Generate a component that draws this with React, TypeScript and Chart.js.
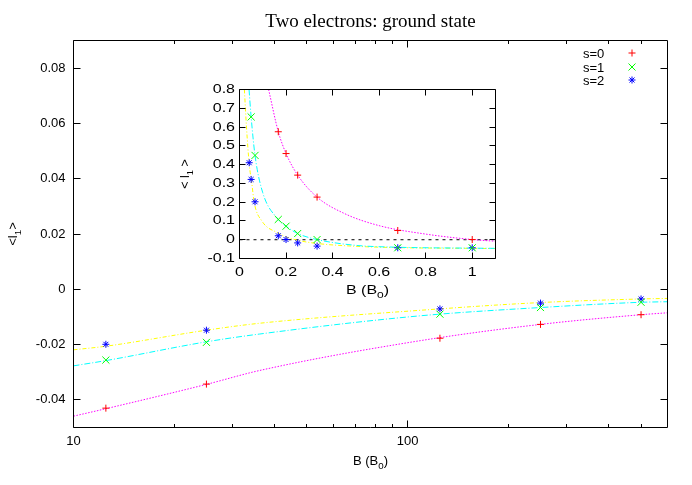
import React, { useEffect, useRef } from 'react';
import { Chart, registerables } from 'chart.js';

Chart.register(...registerables);

const TITLE = 'Two electrons: ground state';
const SERIES_LABELS = ['s=0', 's=1', 's=2'];
const POINT_COLORS = ['#ff0000', '#00ff00', '#0000ff'];
const FIT_COLORS = ['#ff00ff', '#00ffff', '#ffff00'];

// ---- main panel (log B axis) ----
const MAIN_B = [12.5, 25, 125, 250, 500];
const MAIN_S0 = [-0.043, -0.0343, -0.0177, -0.0127, -0.0092];
const MAIN_S1 = [-0.0256, -0.0192, -0.009, -0.0066, -0.0047];
const MAIN_S2 = [-0.0199, -0.0148, -0.0071, -0.005, -0.0035];

const MAIN_FIT_B = [10, 12.5, 25, 36, 109, 250, 500, 600];
const MAIN_FIT0 = [-0.0459, -0.0432, -0.0344, -0.0294, -0.0186, -0.0127, -0.0092, -0.0085];
const MAIN_FIT1 = [-0.0277, -0.0258, -0.019, -0.0162, -0.0096, -0.0066, -0.0047, -0.0045];
const MAIN_FIT2 = [-0.0219, -0.0206, -0.0148, -0.0123, -0.0076, -0.0048, -0.0035, -0.0033];

const MAIN_X_TICKS = [10, 100];
const MAIN_X_MINOR = [20, 30, 40, 50, 60, 70, 80, 90, 200, 300, 400, 500];
const MAIN_Y_TICKS = [-0.04, -0.02, 0, 0.02, 0.04, 0.06, 0.08];

// ---- inset (linear B axis) ----
const IN_S0_B = [0.1667, 0.2, 0.25, 0.3333, 0.68, 1.0];
const IN_S0 = [0.575, 0.459, 0.344, 0.227, 0.049, 0.001];
const IN_S1_B = [0.05, 0.0667, 0.1667, 0.2, 0.25, 0.3333, 0.68, 1.0];
const IN_S1 = [0.654, 0.449, 0.108, 0.072, 0.033, 0.001, -0.043, -0.043];
const IN_S2_B = [0.0417, 0.05, 0.0667, 0.1667, 0.2, 0.25, 0.3333, 0.68, 1.0];
const IN_S2 = [0.41, 0.321, 0.202, 0.021, 0.001, -0.017, -0.034, -0.043, -0.043];

const IN_FIT0_B = [0.125, 0.1667, 0.2, 0.25, 0.3333, 0.45, 0.6, 0.8, 1.0, 1.1];
const IN_FIT0 = [0.8, 0.575, 0.459, 0.344, 0.227, 0.14, 0.075, 0.03, 0.001, -0.008];
const IN_FIT1_B = [0.041, 0.05, 0.0667, 0.1, 0.1667, 0.2, 0.25, 0.3333, 0.5, 0.68, 1.0, 1.1];
const IN_FIT1 = [0.8, 0.654, 0.449, 0.25, 0.108, 0.072, 0.033, 0.001, -0.03, -0.04, -0.045, -0.046];
const IN_FIT2_B = [0.021, 0.03, 0.042, 0.053, 0.063, 0.096, 0.1667, 0.2, 0.25, 0.3333, 0.5, 0.68, 1.0, 1.1];
const IN_FIT2 = [0.8, 0.6, 0.4, 0.3, 0.2, 0.1, 0.035, 0.015, -0.003, -0.02, -0.035, -0.042, -0.046, -0.047];
const IN_ZERO_B = [0, 1.1];
const IN_ZERO = [0, 0];

const IN_X_TICKS = [0, 0.2, 0.4, 0.6, 0.8, 1];
const IN_Y_TICKS = [-0.1, 0, 0.1, 0.2, 0.3, 0.4, 0.5, 0.6, 0.7, 0.8];

const SANS = '"Liberation Sans", Arial, Helvetica, sans-serif';
const SERIF = '"Liberation Serif", "Times New Roman", serif';

const pts = (xs: number[], ys: number[]) => xs.map((x, i) => ({ x, y: ys[i] }));
const crisp = (v: number) => Math.floor(v) + 0.5;

type Part = { t: string; sub?: boolean };

function drawRich(ctx: CanvasRenderingContext2D, parts: Part[], x: number, y: number, size: number, family: string, rot = 0, sx = 1) {
  ctx.save();
  ctx.translate(x, y);
  if (rot) ctx.rotate(rot);
  ctx.scale(sx, 1);
  ctx.fillStyle = '#000';
  ctx.textAlign = 'left';
  ctx.textBaseline = 'alphabetic';
  const fontOf = (p: Part) => `${p.sub ? size * 0.75 : size}px ${family}`;
  let w = 0;
  for (const p of parts) { ctx.font = fontOf(p); w += ctx.measureText(p.t).width; }
  let cx = -w / 2;
  for (const p of parts) {
    ctx.font = fontOf(p);
    ctx.fillText(p.t, cx, p.sub ? size * 0.32 : 0);
    cx += ctx.measureText(p.t).width;
  }
  ctx.restore();
}

function marker(ctx: CanvasRenderingContext2D, style: string, x: number, y: number, color: string) {
  ctx.save();
  ctx.globalAlpha = 1;
  ctx.globalCompositeOperation = 'source-over';
  ctx.setLineDash([]);
  ctx.strokeStyle = color;
  ctx.lineWidth = 1;
  ctx.beginPath();
  if (style === 'cross' || style === 'star') {
    const r = 3.5;
    ctx.moveTo(x - r, y); ctx.lineTo(x + r, y);
    ctx.moveTo(x, y - r); ctx.lineTo(x, y + r);
  }
  if (style === 'crossRot' || style === 'star') {
    const d = style === 'star' ? 2.5 : 3.5;
    ctx.moveTo(x - d, y - d); ctx.lineTo(x + d, y + d);
    ctx.moveTo(x - d, y + d); ctx.lineTo(x + d, y - d);
  }
  ctx.stroke();
  ctx.restore();
}

function framePlugin(xMajor: number[], xMinor: number[], yMajor: number[], majLen: number, minLen: number) {
  return {
    id: 'frame',
    afterDatasetsDraw(chart: any) {
      const { ctx, chartArea: a, scales } = chart;
      const L = crisp(a.left), R = crisp(a.right), T = crisp(a.top), B = crisp(a.bottom);
      ctx.save();
      ctx.setLineDash([]);
      ctx.strokeStyle = '#000';
      ctx.lineWidth = 1;
      ctx.beginPath();
      ctx.rect(L, T, R - L, B - T);
      const xt = (v: number, len: number) => {
        const px = crisp(scales.x.getPixelForValue(v));
        ctx.moveTo(px, B); ctx.lineTo(px, B - len);
        ctx.moveTo(px, T); ctx.lineTo(px, T + len);
      };
      xMajor.forEach((v) => xt(v, majLen));
      xMinor.forEach((v) => xt(v, minLen));
      yMajor.forEach((v) => {
        const py = crisp(scales.y.getPixelForValue(v));
        ctx.moveTo(L, py); ctx.lineTo(L + majLen, py);
        ctx.moveTo(R, py); ctx.lineTo(R - majLen, py);
      });
      ctx.stroke();
      ctx.restore();
    },
  };
}

const POINT_STYLES = ['cross', 'crossRot', 'star'];
const POINT_RADII = [3.5, 5, 3.5];
const FIT_DASH = [[1.5, 1.5], [6, 2, 1, 2], [4, 2, 1, 2]];

function pointSet(i: number, xs: number[], ys: number[]) {
  return {
    label: SERIES_LABELS[i],
    data: pts(xs, ys),
    showLine: false,
    pointStyle: POINT_STYLES[i],
    pointRadius: POINT_RADII[i],
    pointBorderWidth: 1,
    borderColor: POINT_COLORS[i],
    backgroundColor: POINT_COLORS[i],
  };
}

function fitSet(i: number, xs: number[], ys: number[]) {
  return {
    label: 'fit' + i,
    data: pts(xs, ys),
    showLine: true,
    pointRadius: 0,
    borderWidth: 1,
    borderColor: FIT_COLORS[i],
    borderDash: FIT_DASH[i],
    cubicInterpolationMode: 'monotone',
    fill: false,
  };
}

export default function App() {
  const mainRef = useRef<HTMLCanvasElement>(null);
  const insetRef = useRef<HTMLCanvasElement>(null);

  useEffect(() => {
    const mainTexts = {
      id: 'mainTexts',
      afterDraw(chart: any) {
        const { ctx, chartArea: a } = chart;
        const cx = (a.left + a.right) / 2;
        ctx.save();
        ctx.fillStyle = '#000';
        ctx.font = `19px ${SERIF}`;
        ctx.textAlign = 'center';
        ctx.textBaseline = 'alphabetic';
        ctx.fillText(TITLE, cx, 26.5);
        ctx.restore();
        drawRich(ctx, [{ t: 'B (B' }, { t: '0', sub: true }, { t: ')' }], cx, 465, 13, SANS);
        drawRich(ctx, [{ t: '<l' }, { t: '1', sub: true }, { t: '>' }], 16.5, (a.top + a.bottom) / 2, 13, SANS, -Math.PI / 2);
        // legend
        const ys = [53, 67, 80];
        SERIES_LABELS.forEach((lab, i) => {
          ctx.save();
          ctx.fillStyle = '#000';
          ctx.font = `13px ${SANS}`;
          ctx.textAlign = 'left';
          ctx.textBaseline = 'alphabetic';
          ctx.fillText(lab, 583, ys[i] + 5);
          ctx.restore();
          marker(ctx, POINT_STYLES[i], 632, ys[i], POINT_COLORS[i]);
        });
      },
    };

    const main = new Chart(mainRef.current as HTMLCanvasElement, {
      type: 'scatter',
      data: {
        datasets: [
          pointSet(0, MAIN_B, MAIN_S0),
          pointSet(1, MAIN_B, MAIN_S1),
          pointSet(2, MAIN_B, MAIN_S2),
          fitSet(0, MAIN_FIT_B, MAIN_FIT0),
          fitSet(1, MAIN_FIT_B, MAIN_FIT1),
          fitSet(2, MAIN_FIT_B, MAIN_FIT2),
        ] as any,
      },
      options: {
        responsive: false,
        maintainAspectRatio: false,
        animation: false,
        events: [],
        layout: { padding: { left: 0, right: 24.5, top: 40.5, bottom: 0 } },
        plugins: { legend: { display: false }, tooltip: { enabled: false }, title: { display: false } },
        scales: {
          x: {
            type: 'logarithmic',
            min: 10,
            max: 600,
            grid: { display: false, drawTicks: false },
            border: { display: false },
            ticks: {
              color: '#000',
              font: { family: SANS, size: 13 },
              padding: 6,
              maxRotation: 0,
              autoSkip: false,
              callback: (v: any) => String(v),
            },
            afterBuildTicks: (s: any) => { s.ticks = MAIN_X_TICKS.map((v) => ({ value: v })); },
            afterFit: (s: any) => { s.height = 57.5; },
          },
          y: {
            type: 'linear',
            min: -0.05,
            max: 0.09,
            grid: { display: false, drawTicks: false },
            border: { display: false },
            ticks: {
              color: '#000',
              font: { family: SANS, size: 13 },
              padding: 8,
              callback: (v: any) => (Math.abs(v) < 1e-9 ? '0' : Number(v).toFixed(2)),
            },
            afterBuildTicks: (s: any) => { s.ticks = MAIN_Y_TICKS.map((v) => ({ value: v })); },
            afterFit: (s: any) => { s.width = 73.5; },
          },
        },
      } as any,
      plugins: [framePlugin(MAIN_X_TICKS, MAIN_X_MINOR, MAIN_Y_TICKS, 7, 3.5), mainTexts],
    });

    const SX = 1.28;
    const insetTexts = {
      id: 'insetTexts',
      afterDraw(chart: any) {
        const { ctx, chartArea: a, scales } = chart;
        ctx.save();
        ctx.fillStyle = '#000';
        ctx.font = `12.5px ${SANS}`;
        ctx.textBaseline = 'middle';
        IN_Y_TICKS.forEach((v) => {
          const py = scales.y.getPixelForValue(v);
          const lab = Math.abs(v) < 1e-9 ? '0' : v.toFixed(1);
          ctx.save();
          ctx.translate(a.left - 4.5, py);
          ctx.scale(SX, 1);
          ctx.textAlign = 'right';
          ctx.fillText(lab, 0, 0);
          ctx.restore();
        });
        IN_X_TICKS.forEach((v) => {
          const px = scales.x.getPixelForValue(v);
          const lab = Math.abs(v) < 1e-9 ? '0' : String(Math.round(v * 10) / 10);
          ctx.save();
          ctx.translate(px, a.bottom + 14.2);
          ctx.scale(SX, 1);
          ctx.textAlign = 'center';
          ctx.fillText(lab, 0, 0);
          ctx.restore();
        });
        ctx.restore();
        const cx = (a.left + a.right) / 2;
        drawRich(ctx, [{ t: 'B (B' }, { t: '0', sub: true }, { t: ')' }], cx, a.bottom + 35.5, 12.5, SANS, 0, SX);
        drawRich(ctx, [{ t: '< l' }, { t: '1', sub: true }, { t: ' >' }], 18.5, (a.top + a.bottom) / 2, 12.5, SANS, -Math.PI / 2);
      },
    };

    const inset = new Chart(insetRef.current as HTMLCanvasElement, {
      type: 'scatter',
      data: {
        datasets: [
          pointSet(0, IN_S0_B, IN_S0),
          pointSet(1, IN_S1_B, IN_S1),
          pointSet(2, IN_S2_B, IN_S2),
          fitSet(0, IN_FIT0_B, IN_FIT0),
          fitSet(1, IN_FIT1_B, IN_FIT1),
          fitSet(2, IN_FIT2_B, IN_FIT2),
          {
            label: 'zero',
            data: pts(IN_ZERO_B, IN_ZERO),
            showLine: true,
            pointRadius: 0,
            borderWidth: 1,
            borderColor: '#000',
            borderDash: [3, 4],
          },
        ] as any,
      },
      options: {
        responsive: false,
        maintainAspectRatio: false,
        animation: false,
        events: [],
        layout: { padding: { left: 0, right: 14.5, top: 13.5, bottom: 0 } },
        plugins: { legend: { display: false }, tooltip: { enabled: false }, title: { display: false } },
        scales: {
          x: {
            type: 'linear',
            min: 0,
            max: 1.1,
            grid: { display: false, drawTicks: false },
            border: { display: false },
            ticks: { display: false },
            afterBuildTicks: (s: any) => { s.ticks = IN_X_TICKS.map((v) => ({ value: v })); },
            afterFit: (s: any) => { s.height = 47.5; },
          },
          y: {
            type: 'linear',
            min: -0.1,
            max: 0.8,
            grid: { display: false, drawTicks: false },
            border: { display: false },
            ticks: { display: false },
            afterBuildTicks: (s: any) => { s.ticks = IN_Y_TICKS.map((v) => ({ value: v })); },
            afterFit: (s: any) => { s.width = 69.5; },
          },
        },
      } as any,
      plugins: [framePlugin(IN_X_TICKS, [], IN_Y_TICKS, 6, 3), insetTexts],
    });

    return () => {
      main.destroy();
      inset.destroy();
    };
  }, []);

  return (
    <div style={{ position: 'absolute', left: 0, top: 0, width: 692, height: 485, background: '#fff' }}>
      <canvas ref={mainRef} width={692} height={485} style={{ position: 'absolute', left: 0, top: 0, width: 692, height: 485 }} />
      <canvas ref={insetRef} width={340} height={230} style={{ position: 'absolute', left: 170, top: 76, width: 340, height: 230 }} />
    </div>
  );
}
